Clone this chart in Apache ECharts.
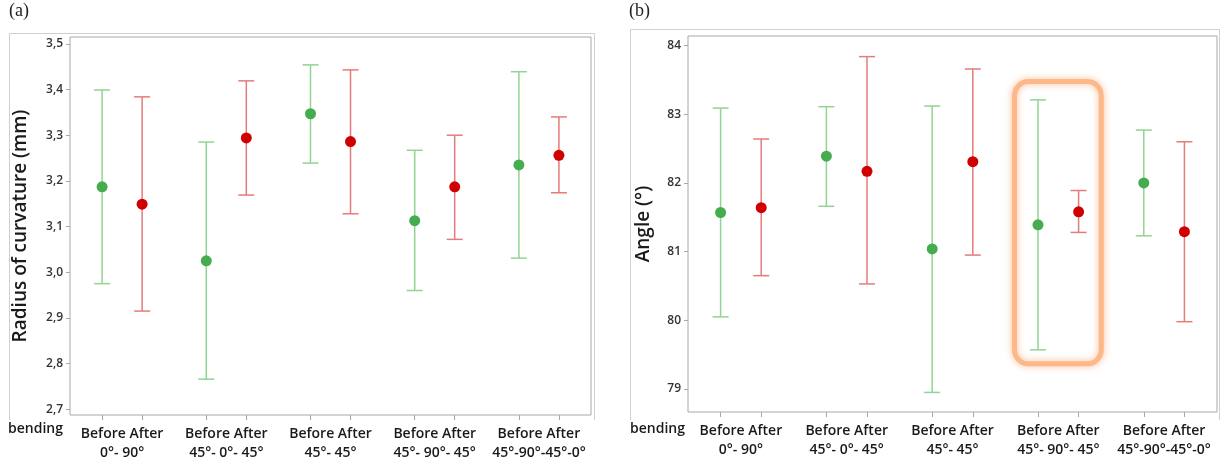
<!DOCTYPE html>
<html><head><meta charset="utf-8">
<script src="https://cdn.jsdelivr.net/npm/echarts@6/dist/echarts.min.js"></script>
<style>html,body{margin:0;padding:0;background:#fff}#c{width:1226px;height:463px}</style>
</head><body><div id="c"></div>
<script>
const groups = ['0°- 90°', '45°- 0°- 45°', '45°- 45°', '45°- 90°- 45°', '45°-90°-45°-0°'];
const pairLabel = 'Before After';
// (a) Radius of curvature (mm)
const radiusBeforeMean = [3.187, 3.025, 3.347, 3.113, 3.235];
const radiusBeforeLow  = [2.975, 2.766, 3.239, 2.960, 3.031];
const radiusBeforeHigh = [3.399, 3.285, 3.454, 3.267, 3.439];
const radiusAfterMean  = [3.149, 3.294, 3.286, 3.187, 3.256];
const radiusAfterLow   = [2.915, 3.169, 3.128, 3.072, 3.174];
const radiusAfterHigh  = [3.384, 3.419, 3.443, 3.300, 3.340];
const radiusTicks = [2.7, 2.8, 2.9, 3.0, 3.1, 3.2, 3.3, 3.4, 3.5];
// (b) Angle (°)
const angleBeforeMean = [81.57, 82.39, 81.04, 81.39, 82.00];
const angleBeforeLow  = [80.05, 81.66, 78.95, 79.57, 81.23];
const angleBeforeHigh = [83.09, 83.11, 83.12, 83.21, 82.77];
const angleAfterMean  = [81.64, 82.17, 82.31, 81.58, 81.29];
const angleAfterLow   = [80.65, 80.53, 80.95, 81.28, 79.98];
const angleAfterHigh  = [82.64, 83.84, 83.66, 81.89, 82.60];
const angleTicks = [79, 80, 81, 82, 83, 84];

const OFF = 0.192;
const GREEN_DOT = '#45ad4f', GREEN_LINE = '#93d393';
const RED_DOT = '#d10000', RED_LINE = '#e67b7b';

const xPos = (i, k) => i + (k === 0 ? -OFF : OFF);
const tickPositions = [];
groups.forEach((g, i) => { tickPositions.push(xPos(i, 0), xPos(i, 1)); });
const labelPositions = groups.map((g, i) => i);

function errData(mean, low, high, k) {
  return mean.map((m, i) => [xPos(i, k), low[i], high[i]]);
}
function ptData(mean, k) { return mean.map((m, i) => [xPos(i, k), m]); }

function errSeries(data, color, gi) {
  return {
    type: 'custom', xAxisIndex: gi, yAxisIndex: gi, data: data,
    encode: { x: 0, y: [1, 2] }, z: 2,
    renderItem: function (params, api) {
      const lo = api.coord([api.value(0), api.value(1)]);
      const hi = api.coord([api.value(0), api.value(2)]);
      const hw = 8;
      const st = { stroke: color, lineWidth: 1.5 };
      return { type: 'group', children: [
        { type: 'line', shape: { x1: lo[0], y1: lo[1], x2: hi[0], y2: hi[1] }, style: st },
        { type: 'line', shape: { x1: lo[0] - hw, y1: lo[1], x2: lo[0] + hw, y2: lo[1] }, style: st },
        { type: 'line', shape: { x1: hi[0] - hw, y1: hi[1], x2: hi[0] + hw, y2: hi[1] }, style: st }
      ]};
    }
  };
}
function ptSeries(data, color, gi) {
  return { type: 'scatter', xAxisIndex: gi, yAxisIndex: gi, data: data, symbolSize: 11,
    itemStyle: { color: color, opacity: 1 }, z: 3 };
}

const labelFont = 'Open Sans';
function xAxisDef(gi) {
  return {
    type: 'value', gridIndex: gi, min: -0.5, max: 4.5,
    splitLine: { show: false }, axisLine: { show: false, onZero: false },
    axisTick: { show: true, customValues: tickPositions, length: 5, lineStyle: { color: '#a8a8a8' } },
    axisLabel: { show: true, customValues: labelPositions, margin: 10, interval: 0,
      formatter: v => pairLabel + '\n' + groups[Math.round(v)],
      fontFamily: labelFont, fontSize: 14, lineHeight: 19, color: '#1a1a1a', fontWeight: 600 }
  };
}
function yAxisDef(gi, min, max, ticks, fmt, name, gap) {
  return {
    type: 'value', gridIndex: gi, min: min, max: max,
    splitLine: { show: false },
    axisLine: { show: false, onZero: false },
    axisTick: { show: true, customValues: ticks, length: 4, lineStyle: { color: '#a8a8a8' } },
    axisLabel: { customValues: ticks, formatter: fmt, fontFamily: labelFont, fontSize: 12, color: '#333', margin: 7, fontWeight: 600 },
    name: name, nameLocation: 'middle', nameGap: gap, nameRotate: 90,
    nameTextStyle: { fontFamily: labelFont, fontSize: 19, color: '#1a1a1a', fontWeight: 600 }
  };
}

const chart = echarts.init(document.getElementById('c'), null, { renderer: 'canvas' });
chart.setOption({
  animation: false,
  backgroundColor: '#fff',
  grid: [
    { left: 70, top: 37, width: 521, height: 378, show: true, borderColor: '#a8a8a8', borderWidth: 1, backgroundColor: 'transparent' },
    { left: 688, top: 36, width: 529, height: 376, show: true, borderColor: '#a8a8a8', borderWidth: 1, backgroundColor: 'transparent' }
  ],
  xAxis: [xAxisDef(0), xAxisDef(1)],
  yAxis: [
    yAxisDef(0, 2.6875, 3.515, radiusTicks, v => v.toFixed(1).replace('.', ','), 'Radius of curvature (mm)', 40),
    yAxisDef(1, 78.665, 84.14, angleTicks, v => String(v), 'Angle (°)', 35)
  ],
  series: [
    errSeries(errData(radiusBeforeMean, radiusBeforeLow, radiusBeforeHigh, 0), GREEN_LINE, 0),
    errSeries(errData(radiusAfterMean, radiusAfterLow, radiusAfterHigh, 1), RED_LINE, 0),
    ptSeries(ptData(radiusBeforeMean, 0), GREEN_DOT, 0),
    ptSeries(ptData(radiusAfterMean, 1), RED_DOT, 0),
    errSeries(errData(angleBeforeMean, angleBeforeLow, angleBeforeHigh, 0), GREEN_LINE, 1),
    errSeries(errData(angleAfterMean, angleAfterLow, angleAfterHigh, 1), RED_LINE, 1),
    ptSeries(ptData(angleBeforeMean, 0), GREEN_DOT, 1),
    ptSeries(ptData(angleAfterMean, 1), RED_DOT, 1)
  ]
});

// highlight box around group index 3 in panel (b)
const hlA = chart.convertToPixel({ gridIndex: 1 }, [3 - 0.414, 83.476]);
const hlB = chart.convertToPixel({ gridIndex: 1 }, [3 + 0.406, 79.367]);
chart.setOption({
  graphic: [
    { type: 'polyline', shape: { points: [[9.5, 420], [9.5, 33.5], [594.5, 33.5], [594.5, 420]] }, style: { stroke: '#cfcfcf', fill: null, lineWidth: 1 }, z: 0 },
    { type: 'polyline', shape: { points: [[630.5, 420], [630.5, 29.5], [1219.5, 29.5], [1219.5, 420]] }, style: { stroke: '#cfcfcf', fill: null, lineWidth: 1 }, z: 0 },
    { type: 'text', left: 9, top: 2, style: { text: '(a)', font: '18px "Liberation Serif"', fill: '#222' } },
    { type: 'text', left: 629, top: 2, style: { text: '(b)', font: '18px "Liberation Serif"', fill: '#222' } },
    { type: 'text', left: 8, top: 422, style: { text: 'bending', font: '600 14px "Open Sans"', fill: '#1a1a1a' } },
    { type: 'text', left: 630, top: 422, style: { text: 'bending', font: '600 14px "Open Sans"', fill: '#1a1a1a' } },
    { type: 'rect', shape: { x: hlA[0], y: hlA[1], width: hlB[0] - hlA[0], height: hlB[1] - hlA[1], r: 14 },
      style: { fill: null, stroke: 'rgba(252,180,130,0.9)', lineWidth: 5, shadowBlur: 7, shadowColor: 'rgba(250,160,100,0.8)' }, z: 10 }
  ]
});
</script></body></html>
